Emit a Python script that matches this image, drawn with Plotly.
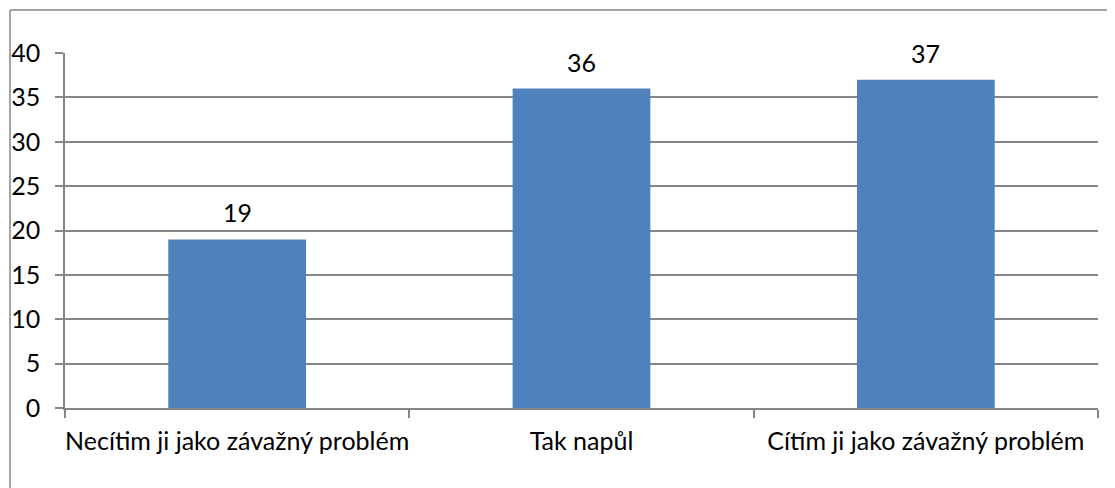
import plotly.graph_objects as go

categories = ["Necítim ji jako závažný problém", "Tak napůl", "Cítím ji jako závažný problém"]
values = [19, 36, 37]
y_ticks = [0, 5, 10, 15, 20, 25, 30, 35, 40]

# the page body adds an 8px offset; figure coordinates are screen - 8
W, H = 1107, 480
ml, mr, mt, mb = 57, 17, 45, 80
FONT = "Lato"
FS = 25
GRID = "#868686"

fig = go.Figure()
fig.add_trace(go.Bar(
    x=categories, y=values, width=0.4,
    marker=dict(color="#4F81BD", line=dict(width=0)),
    hoverinfo="x+y",
))

for c, v in zip(categories, values):
    fig.add_annotation(x=c, y=v, text=str(v), showarrow=False,
                       yanchor="middle", yshift=27,
                       font=dict(family=FONT, size=FS, color="#000000"))

pw = W - ml - mr
ph = H - mt - mb
def px_x(p):
    return (p - ml) / pw
def px_y(p):
    return (H - mb - p) / ph

fig.add_shape(type="line", xref="paper", yref="paper",
              x0=px_x(2), x1=px_x(2), y0=px_y(2), y1=px_y(H + 5),
              line=dict(color=GRID, width=1.5))
fig.add_shape(type="line", xref="paper", yref="paper",
              x0=px_x(2), x1=px_x(W + 5), y0=px_y(2), y1=px_y(2),
              line=dict(color=GRID, width=1.5))

fig.update_layout(
    width=W, height=H,
    margin=dict(l=ml, r=mr, t=mt, b=mb, autoexpand=False),
    paper_bgcolor="white", plot_bgcolor="white",
    showlegend=False,
    font=dict(family=FONT, size=FS, color="#000000"),
    xaxis=dict(
        type="category", tickson="boundaries", ticks="outside", ticklen=8,
        tickcolor=GRID, tickwidth=1.5, showline=True, linecolor=GRID, linewidth=1.5,
        showgrid=False, tickfont=dict(family=FONT, size=FS, color="#000000"),
        ticklabelstandoff=10, tickangle=0, automargin=False,
    ),
    yaxis=dict(
        range=[0, 40], tickvals=y_ticks, ticks="outside", ticklen=8,
        tickcolor=GRID, tickwidth=1.5, showline=True, linecolor=GRID, linewidth=1.5,
        showgrid=True, gridcolor=GRID, gridwidth=1.5, zeroline=False,
        tickfont=dict(family=FONT, size=FS, color="#000000"),
        ticklabelstandoff=10, automargin=False,
    ),
)

fig.write_html("out.html")
